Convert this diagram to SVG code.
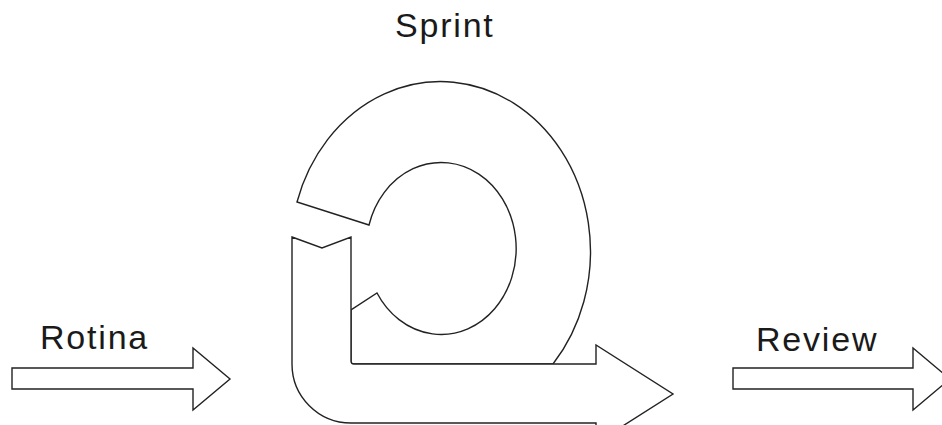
<svg xmlns="http://www.w3.org/2000/svg" width="942" height="425" viewBox="0 0 942 425">
<style>
.s{fill:#fff;stroke:#222;stroke-width:1.4;stroke-linejoin:miter}
.t{font-family:"Liberation Sans",Arial,sans-serif;font-size:34px;fill:#1a1a1a;letter-spacing:1.8px}
</style>
<rect width="942" height="425" fill="#fff"/>
<g id="rotina">
<polygon class="s" points="12,368 193,368 193,348 230,379 193,410 193,389 12,389"/>
<text class="t" x="40" y="349">Rotina</text>
</g>
<g id="sprint">
<path class="s" d="M297,202 A150,170 0 1 1 553,364 L351,364 L351,310 L377,293 A75,86 0 1 0 369,225 Z"/>
<path class="s" d="M292,237 L322,248 L351,237 L351,361 Q351,364 354,364 L596,364 L596,345 L673,394 L596,443 L596,423 L351,423 A59,59 0 0 1 292,364 Z"/>
<text class="t" x="395" y="37">Sprint</text>
</g>
<g id="review">
<polygon class="s" points="733,368 913,368 913,348 950,379 913,410 913,389 733,389"/>
<text class="t" x="756" y="351">Review</text>
</g>
<g id="connectors"/>
</svg>
